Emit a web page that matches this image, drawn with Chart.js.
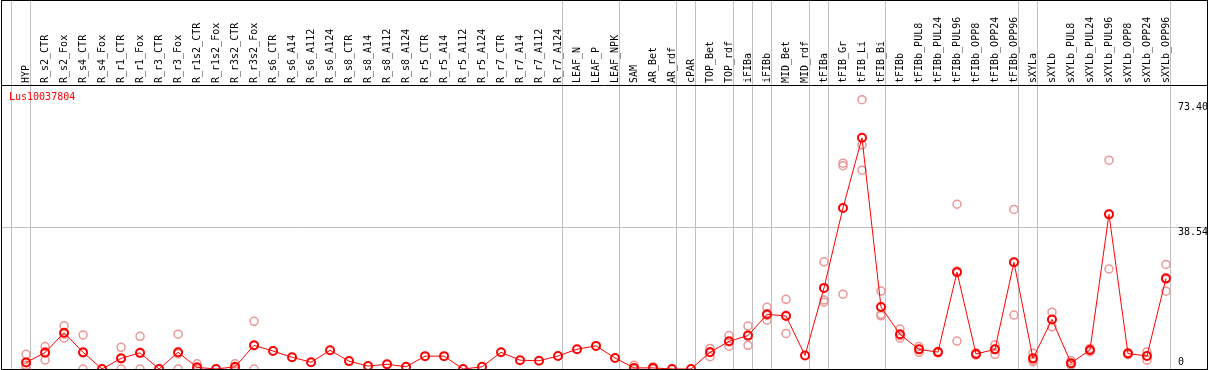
<!DOCTYPE html>
<html>
<head>
<meta charset="utf-8">
<title>Lus10037804</title>
<script src="https://cdn.jsdelivr.net/npm/chart.js@4.4.1/dist/chart.umd.min.js"></script>
<style>
  body { margin: 0; background: #fff; }
  canvas { display: block; }
</style>
</head>
<body>
<canvas id="myChart" width="1209" height="370"></canvas>
<script>
let geneName = "Lus10037804";

let categories = ["HYP", "R_s2_CTR", "R_s2_Fox", "R_s4_CTR", "R_s4_Fox", "R_r1_CTR", "R_r1_Fox",
    "R_r3_CTR", "R_r3_Fox", "R_r1s2_CTR", "R_r1s2_Fox", "R_r3s2_CTR", "R_r3s2_Fox",
    "R_s6_CTR", "R_s6_A14", "R_s6_A112", "R_s6_A124", "R_s8_CTR", "R_s8_A14", "R_s8_A112", "R_s8_A124",
    "R_r5_CTR", "R_r5_A14", "R_r5_A112", "R_r5_A124", "R_r7_CTR", "R_r7_A14", "R_r7_A112", "R_r7_A124",
    "LEAF_N", "LEAF_P", "LEAF_NPK", "SAM", "AR_Bet", "AR_rdf", "cPAR", "TOP_Bet", "TOP_rdf",
    "iFIBa", "iFIBb", "MID_Bet", "MID_rdf", "tFIBa", "tFIB_Gr", "tFIB_Li", "tFIB_Bi", "tFIBb",
    "tFIBb_PUL8", "tFIBb_PUL24", "tFIBb_PUL96", "tFIBb_OPP8", "tFIBb_OPP24", "tFIBb_OPP96",
    "sXYLa", "sXYLb", "sXYLb_PUL8", "sXYLb_PUL24", "sXYLb_PUL96", "sXYLb_OPP8", "sXYLb_OPP24", "sXYLb_OPP96"];

// mean expression per sample
let means = [1.8, 4.45, 9.9, 4.55, 0, 2.9, 4.4, 0, 4.55, 0.45, 0, 0.6, 6.45,
    4.9, 3.2, 1.85, 5.1, 2.15, 0.8, 1.3, 0.6, 3.5, 3.5, 0, 0.6, 4.55, 2.4, 2.25, 3.55,
    5.4, 6.3, 3.0, 0.3, 0.3, 0, 0, 4.55, 7.55, 9.1, 14.9, 14.45, 3.7,
    22.1, 43.9, 63.0, 16.9, 9.45, 5.35, 4.6, 26.4, 4.1, 5.35, 29.1,
    2.9, 13.5, 1.6, 5.2, 42.15, 4.2, 3.55, 24.7];

// single replicates (null = not shown)
let rep1 = [4.0, 6.1, 11.8, 9.3, null, 5.9, 8.9, null, 9.5, 1.4, null, 1.4, 13.0,
    null, null, null, null, null, null, null, null, null, null, null, null, null, null, null, null,
    null, null, null, 1.0, 0.6, null, null, 5.6, 9.1, 11.7, 16.8, 19.0, null,
    29.2, 56.1, 73.4, 21.25, 10.9, 6.1, 4.8, 44.9, 4.4, 6.6, 43.5,
    4.3, 15.5, 2.3, 5.6, 56.9, 4.5, 4.7, 28.5];
let rep2 = [1.0, 4.8, 9.5, 4.35, null, 2.8, 4.3, null, 4.15, 0, null, 0.4, 6.35,
    null, null, null, null, null, null, null, null, null, null, null, null, null, null, null, null,
    null, null, null, 0, 0.3, null, null, 4.7, 7.4, 9.15, 14.6, 14.65, null,
    18.8, 55.4, 61.1, 14.9, 9.05, 5.4, 4.6, 26.7, 4.1, 5.45, 29.1,
    2.4, 13.5, 1.4, 5.2, 42.3, 4.2, 3.55, 24.4];
let rep3 = [0.4, 2.45, 8.4, 0, null, 0, 0, null, 0, 0, null, 0, 0,
    null, null, null, null, null, null, null, null, null, null, null, null, null, null, null, null,
    null, null, null, 0, 0, null, null, 3.35, 6.2, 6.45, 13.3, 9.7, null,
    18.2, 20.4, 54.2, 14.5, 8.4, 4.55, 4.4, 7.6, 3.8, 4.0, 14.7,
    2.0, 11.5, 1.1, 4.7, 27.25, 3.9, 2.4, 21.2];

let yTickValues = [0, 38.54, 73.40];
let yTickLabels = ["0", "38.54", "73.40"];

// index of the last sample in each group (-1 = before the first)
let groupEnds = [-1, 0, 28, 31, 34, 35, 37, 38, 39, 41, 42, 45, 52, 53, 60];

let monoFont = "'DejaVu Sans Mono', 'Liberation Mono', monospace";

function toPoints(values) {
    let pts = [];
    for (let i = 0; i < values.length; i++) {
        if (values[i] !== null) pts.push({x: i, y: values[i]});
    }
    return pts;
}

let replicatePoints = toPoints(rep1).concat(toPoints(rep2), toPoints(rep3));

let framePlugin = {
    id: "frame",
    beforeDraw(chart) {
        let c = chart.ctx;
        let xs = chart.scales.x;
        let area = chart.chartArea;
        c.save();
        c.strokeStyle = "#c0c0c0";
        c.lineWidth = 1;
        groupEnds.forEach(function (i) {
            let px = Math.round(xs.getPixelForValue(i + 0.22)) + 0.5;
            c.beginPath();
            c.moveTo(px, 0);
            c.lineTo(px, area.bottom);
            c.stroke();
        });
        c.restore();
    },
    afterDraw(chart) {
        let c = chart.ctx;
        let ys = chart.scales.y;
        let area = chart.chartArea;
        c.save();
        // outer box
        c.strokeStyle = "#000";
        c.lineWidth = 1;
        c.strokeRect(1.5, 0.5, area.right - 1, area.bottom);
        // right-hand value labels
        c.font = "10px " + monoFont;
        c.fillStyle = "#000";
        c.textAlign = "left";
        c.textBaseline = "middle";
        yTickValues.forEach(function (v, k) {
            let py = ys.getPixelForValue(v) + 5;
            py = Math.max(area.top + 22, Math.min(py, area.bottom - 7));
            c.fillText(yTickLabels[k], area.right - 29, py);
        });
        // gene name
        c.fillStyle = "#ff0000";
        c.fillText(geneName, area.left + 8, area.top + 12);
        c.restore();
    }
};

let ctx = document.getElementById("myChart");

const myChart = new Chart(ctx, {
    type: "line",
    data: {
        datasets: [
            {
                label: "mean",
                data: toPoints(means),
                borderColor: "#ff0000",
                borderWidth: 1,
                tension: 0,
                pointRadius: 4,
                pointBorderWidth: 2,
                pointBorderColor: "#ff0000",
                pointBackgroundColor: "rgba(0,0,0,0)",
                order: 0
            },
            {
                label: "replicates",
                data: replicatePoints,
                showLine: false,
                pointRadius: 4,
                pointBorderWidth: 1.5,
                pointBorderColor: "rgb(236,150,150)",
                pointBackgroundColor: "rgba(0,0,0,0)",
                order: 1
            }
        ]
    },
    options: {
        responsive: false,
        animation: false,
        layout: { autoPadding: false, padding: { left: 1, right: 2, top: 0, bottom: 1 } },
        plugins: {
            legend: { display: false },
            tooltip: { enabled: false },
            title: { display: false }
        },
        scales: {
            x: {
                type: "linear",
                position: "top",
                min: -1.32,
                max: 62.16,
                afterBuildTicks: function (scale) {
                    scale.ticks = categories.map(function (_, i) { return {value: i}; });
                },
                afterFit: function (scale) {
                    scale.height = 85;
                    scale.paddingLeft = 0;
                    scale.paddingRight = 0;
                },
                grid: { display: false, drawTicks: false },
                border: { display: true, color: "#000", width: 1 },
                ticks: {
                    autoSkip: false,
                    minRotation: 90,
                    maxRotation: 90,
                    padding: 2,
                    labelOffset: 12,
                    color: "#000",
                    font: { family: monoFont, size: 10 },
                    callback: function (value) { return categories[value]; }
                }
            },
            y: {
                type: "linear",
                position: "right",
                min: 0,
                max: 77.4,
                afterBuildTicks: function (scale) {
                    scale.ticks = yTickValues.map(function (v) { return {value: v}; });
                },
                afterFit: function (scale) { scale.width = 0; },
                grid: {
                    drawTicks: false,
                    color: function (context) {
                        return context.tick && context.tick.value === 38.54 ? "#c0c0c0" : "rgba(0,0,0,0)";
                    }
                },
                border: { display: false },
                ticks: { display: false }
            }
        }
    },
    plugins: [framePlugin]
});
</script>
</body>
</html>
